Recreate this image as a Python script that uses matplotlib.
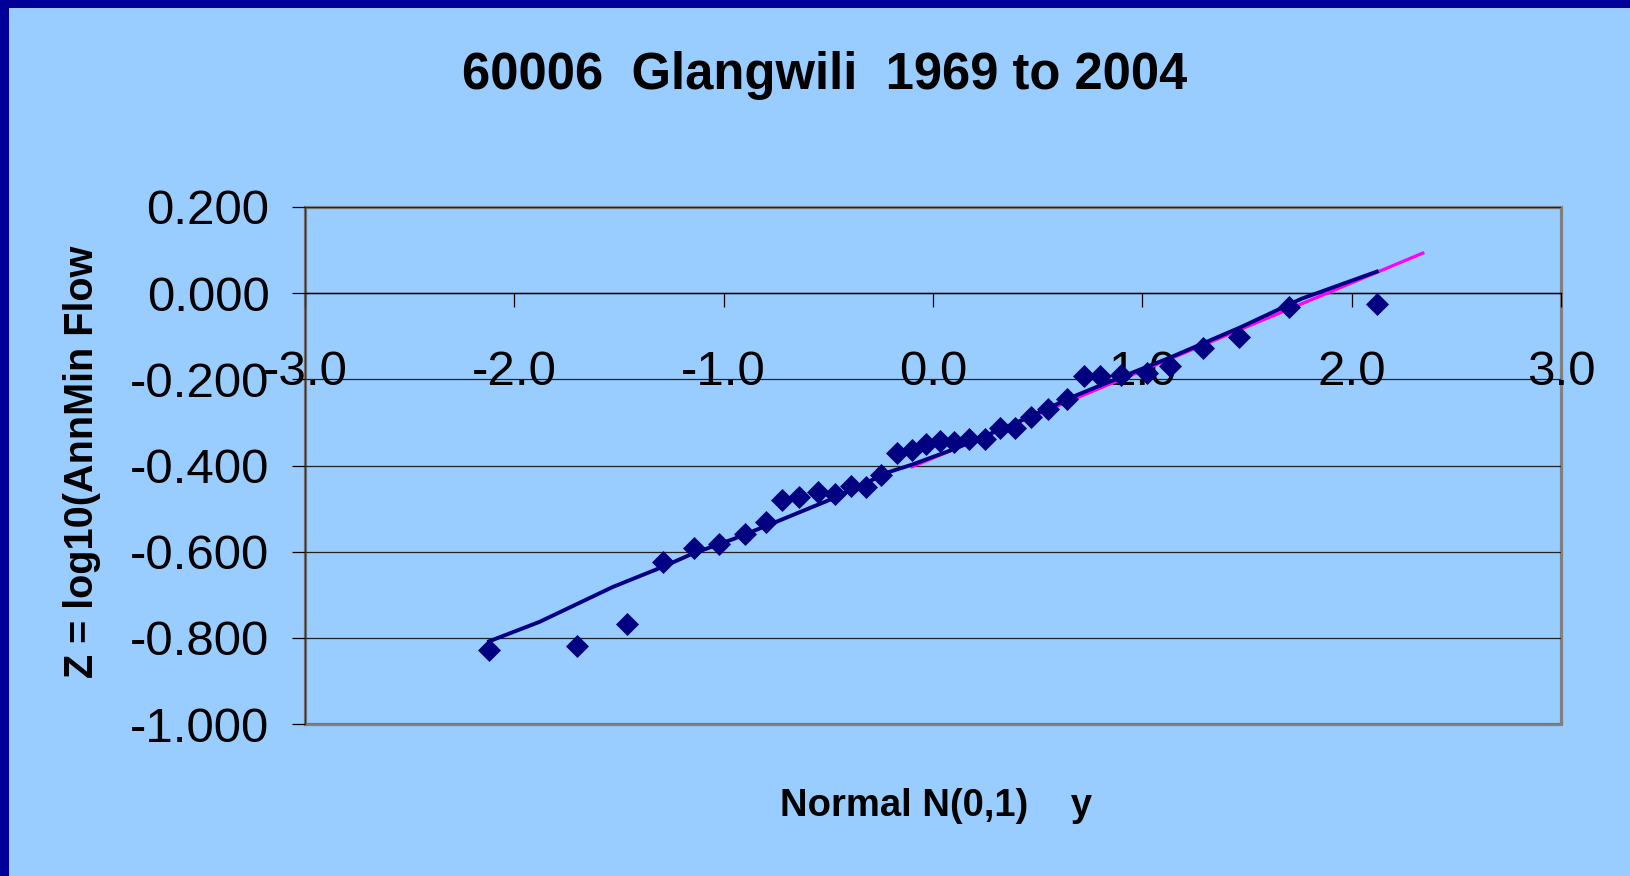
import matplotlib
matplotlib.use("Agg")
import matplotlib.pyplot as plt
from matplotlib.patches import Rectangle

# Excel-like styling
plt.rcParams['font.family'] = ['Liberation Sans', 'DejaVu Sans']

# observed points: normal variate y vs log10 of annual minimum flow
normal_y = [-2.12, -1.70, -1.46, -1.29, -1.14, -1.02, -0.90, -0.80, -0.72,
            -0.64, -0.55, -0.47, -0.39, -0.32, -0.25, -0.17, -0.10, -0.035,
            0.035, 0.10, 0.17, 0.25, 0.32, 0.39, 0.47, 0.55, 0.64, 0.72,
            0.80, 0.90, 1.02, 1.13, 1.29, 1.46, 1.70, 2.12]
log_flow = [-0.829, -0.819, -0.768, -0.624, -0.591, -0.582, -0.558, -0.530,
            -0.480, -0.472, -0.462, -0.466, -0.448, -0.449, -0.423, -0.371,
            -0.365, -0.350, -0.342, -0.346, -0.338, -0.338, -0.313, -0.313,
            -0.288, -0.270, -0.245, -0.193, -0.192, -0.190, -0.185, -0.168,
            -0.127, -0.101, -0.033, -0.025]

# fitted curve (navy)
fit_x = [-2.12, -1.88, -1.53, -1.29, -1.15, -0.95, -0.75, -0.48, -0.21,
         -0.10, 0.10, 0.40, 0.69, 0.80, 1.12, 1.47, 1.76, 2.12]
fit_z = [-0.808, -0.763, -0.682, -0.635, -0.605, -0.570, -0.531, -0.477,
         -0.415, -0.398, -0.362, -0.300, -0.236, -0.214, -0.152, -0.079,
         -0.013, 0.050]

# straight line (magenta), mostly hidden under the fitted curve
line_x = [-0.10, 2.34]
line_z = [-0.403, 0.093]

y_ticks = [0.2, 0.0, -0.2, -0.4, -0.6, -0.8, -1.0]
x_ticks = [-3.0, -2.0, -1.0, 0.0, 1.0, 2.0, 3.0]

bg = '#99CCFF'
navy = '#000080'

fig = plt.figure(figsize=(16.3, 8.76), dpi=100, facecolor=bg)
W, H = 1630, 876

# dark blue strips on left and top edge
fig.patches.append(Rectangle((0, 0), 9 / W, 1, transform=fig.transFigure,
                             facecolor='#000099', edgecolor='none', zorder=0))
fig.patches.append(Rectangle((0, 1 - 8 / H), 1, 8 / H, transform=fig.transFigure,
                             facecolor='#000099', edgecolor='none', zorder=0))

ax = fig.add_axes([305 / W, 1 - 724 / H, (1561 - 305) / W, (724 - 207) / H])
ax.set_facecolor(bg)
ax.set_xlim(-3, 3)
ax.set_ylim(-1.0, 0.2)

# gray plot-area frame
ax.add_patch(Rectangle((0, 0), 1, 1, transform=ax.transAxes, fill=False,
                       edgecolor='#808080', linewidth=2.3, zorder=1, clip_on=False))
for s in ['top', 'right']:
    ax.spines[s].set_visible(False)
ax.spines['left'].set_color('#333333')
ax.spines['left'].set_linewidth(1.0)
ax.spines['bottom'].set_position(('data', 0))
ax.spines['bottom'].set_color('black')
ax.spines['bottom'].set_linewidth(1.0)

for yv in y_ticks:
    ax.axhline(yv, color='#222222', linewidth=0.9, zorder=1)

ax.set_yticks(y_ticks)
ax.set_yticklabels([f'{v:.3f}' for v in y_ticks])
ax.set_xticks(x_ticks)
ax.set_xticklabels([f'{v:.1f}' for v in x_ticks])
ax.tick_params(axis='y', direction='out', length=9.5, width=0.9, pad=16,
               labelsize=35.5, colors='black')
ax.tick_params(axis='x', direction='out', length=10, width=0.9, pad=31,
               labelsize=35.5, colors='black')

ax.plot(line_x, line_z, color='#FF00FF', linewidth=2.3, zorder=3)
ax.plot(fit_x, fit_z, color=navy, linewidth=2.8, zorder=4)
ax.plot(normal_y, log_flow, linestyle='none', marker='D', markersize=11.5,
        markerfacecolor=navy, markeredgecolor=navy, markeredgewidth=0.5,
        zorder=5, clip_on=False)

fig.text(825 / W, 1 - 89.5 / H, '60006  Glangwili  1969 to 2004',
         ha='center', va='baseline', fontsize=36.5, fontweight='bold')
fig.text(935.5 / W, 1 - 816 / H, 'Normal N(0,1)    y',
         ha='center', va='baseline', fontsize=27.5, fontweight='bold')
fig.text(81.7 / W, 1 - 462 / H, 'Z = log10(AnnMin Flow', rotation=90,
         ha='center', va='center', fontsize=28.5, fontweight='bold')

fig.savefig('out.png', dpi=100, facecolor=bg)
